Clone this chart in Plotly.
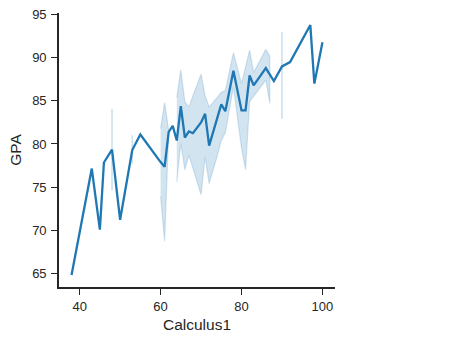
import plotly.graph_objects as go

# Data
calculus1 = [38, 43, 45, 46, 48, 50, 53, 55, 60, 61, 62, 63, 64, 65, 66, 67, 68, 70, 71, 72,
             74, 75, 76, 78, 80, 81, 82, 83, 86, 87, 88, 90, 92, 97, 98, 100]
gpa_mean = [64.8, 77.15, 70.05, 77.85, 79.35, 71.2, 79.3, 81.1, 77.9, 77.35, 81.4, 82.1, 80.4, 84.4,
            80.75, 81.45, 81.25, 82.5, 83.5, 79.8, 83.0, 84.6, 83.8, 88.5, 83.9, 83.9, 87.95, 86.8,
            88.8, 88.1, 87.3, 89.0, 89.5, 93.8, 87.0, 91.8]
ci_low = [None, None, None, None, 74.6, None, 77.7, None, 73.9, 68.7, 81.2, None, 75.6, 80.05,
          77.0, 78.7, 77.0, 74.1, 78.5, 75.4, 78.6, 80.4, 81.3, 86.6, 79.5, 77.0, 84.9, 85.5,
          87.4, 84.7, None, 82.9, None, None, None, None]
ci_high = [None, None, None, None, 84.1, None, 81.0, None, 81.8, 84.8, 81.6, None, 85.4, 88.6,
           84.9, 84.3, 85.6, 88.1, 85.6, 84.3, 85.4, 86.0, 86.2, 90.6, 87.0, 88.9, 90.9, 88.3,
           91.0, 90.2, None, 93.0, None, None, None, None]

x_ticks = [40, 60, 80, 100]
y_ticks = [65, 70, 75, 80, 85, 90, 95]

BLUE = "#1f77b4"
BAND = "rgba(31,119,180,0.2)"
INK = "#262626"
FONT = "Liberation Sans, Arial, sans-serif"

fig = go.Figure()

# split confidence band into contiguous segments
segments, cur = [], []
for i, lo in enumerate(ci_low):
    if lo is None:
        if cur:
            segments.append(cur)
        cur = []
    else:
        cur.append(i)
if cur:
    segments.append(cur)

for seg in segments:
    xs = [calculus1[i] for i in seg]
    lo = [ci_low[i] for i in seg]
    hi = [ci_high[i] for i in seg]
    if len(seg) == 1:
        fig.add_trace(go.Scatter(x=[xs[0], xs[0]], y=[lo[0], hi[0]], mode="lines",
                                 line=dict(color="rgba(31,119,180,0.22)", width=1.6),
                                 hoverinfo="skip", showlegend=False))
    else:
        fig.add_trace(go.Scatter(x=xs + xs[::-1], y=hi + lo[::-1], mode="lines",
                                 fill="toself", fillcolor=BAND,
                                 line=dict(color="rgba(31,119,180,0.18)", width=1.2),
                                 hoverinfo="skip", showlegend=False))

fig.add_trace(go.Scatter(x=calculus1, y=gpa_mean, mode="lines",
                         line=dict(color=BLUE, width=2.3), showlegend=False))

fig.update_layout(
    width=451, height=337,
    margin=dict(l=59, r=116, t=13, b=50, autoexpand=False),
    paper_bgcolor="white", plot_bgcolor="white",
    font=dict(family=FONT, color=INK, size=13),
)
axis_common = dict(showgrid=False, zeroline=False, showline=True, linecolor=INK, linewidth=1.6,
                   ticks="outside", ticklen=6, tickwidth=1.4, tickcolor=INK, automargin=False,
                   tickfont=dict(family=FONT, size=13, color=INK))
fig.update_xaxes(range=[34.9, 103.1], tickvals=x_ticks, ticklabelstandoff=1,
                 title=dict(text="Calculus1", font=dict(family=FONT, size=15.5, color=INK), standoff=6),
                 **axis_common)
fig.update_yaxes(range=[63.4, 95.2], tickvals=y_ticks, ticklabelstandoff=2,
                 title=dict(text="GPA", font=dict(family=FONT, size=15.5, color=INK), standoff=7),
                 **axis_common)

fig.write_html("out.html")
